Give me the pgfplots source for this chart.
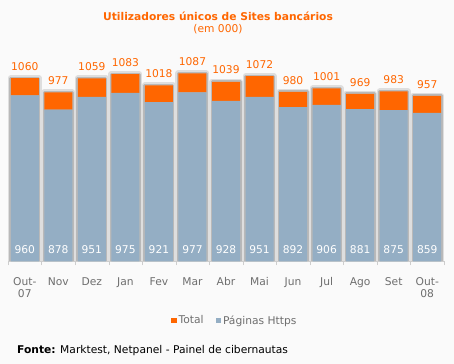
\documentclass[border=0pt]{standalone}
\usepackage{pgfplots}
\pgfplotsset{compat=1.18}
\usepackage{pgfplotstable}
\usepackage{fontspec}
\setmainfont{DejaVu Sans}
\definecolor{bg}{RGB}{250,250,250}
\definecolor{org}{RGB}{255,102,0}
\definecolor{bluegrey}{RGB}{148,174,196}
\definecolor{txtgrey}{RGB}{110,110,110}
\definecolor{axgrey}{RGB}{205,205,205}
\definecolor{shadowA}{RGB}{222,222,222}
\definecolor{shadowB}{RGB}{185,185,185}

\pgfplotstableread{
x https diff total zero
0 960 100 1060 0
1 878 99 977 0
2 951 108 1059 0
3 975 108 1083 0
4 921 97 1018 0
5 977 110 1087 0
6 928 111 1039 0
7 951 121 1072 0
8 892 88 980 0
9 906 95 1001 0
10 881 88 969 0
11 875 108 983 0
12 859 98 957 0
}\datatable

\pgfplotsset{basestyle/.style={
  at={(8bp,102.5bp)}, anchor=south west,
  scale only axis, width=436bp, height=207.6bp,
  xmin=-0.5, xmax=12.5, ymin=0, ymax=1200,
}}
\newcommand{\lblfont}{\fontsize{10.7bp}{12bp}\selectfont}

\begin{document}
\begin{tikzpicture}
\fill[bg] (0,0) rectangle (454bp,364bp);
\useasboundingbox (0,0) rectangle (454bp,364bp);

% shadow layer
\begin{axis}[basestyle, hide axis, ybar, bar width=28bp, bar shift=0pt]
\addplot[fill=shadowA, draw=shadowA, line width=6bp, line join=round] table[x=x,y=total] {\datatable};
\addplot[fill=shadowB, draw=shadowB, line width=3bp, line join=round] table[x=x,y=total] {\datatable};
\end{axis}

% main layer
\begin{axis}[basestyle,
  ybar stacked, bar width=28bp,
  axis x line=bottom, axis y line=none,
  x axis line style={draw=axgrey, -},
  ytick=\empty,
  xtick={0,...,12},
  xticklabels={{Out-\\07},Nov,Dez,Jan,Fev,Mar,Abr,Mai,Jun,Jul,Ago,Set,{Out-\\08}},
  xticklabel style={align=center, font=\lblfont, text=txtgrey, yshift=-8bp},
  major x tick style={draw=none},
  minor xtick={-0.5,0.5,...,12.5},
  minor tick length=4bp,
  tick align=outside,
  minor x tick style={draw=axgrey},
  reverse legend,
  legend style={at={(0.52,-0.285)}, anchor=center, draw=none, fill=none,
    legend columns=2, font=\lblfont, text=txtgrey,
    /tikz/every even column/.append style={column sep=10bp}},
]
\addplot[fill=bluegrey, draw=none,
  legend image code/.code={\path[fill=bluegrey] (0bp,-2.5bp) rectangle (5.5bp,3bp);},
] table[x=x,y=https] {\datatable};
\addplot[fill=org, draw=none,
  legend image code/.code={\path[fill=org] (0bp,-2.5bp) rectangle (5.5bp,3bp);},
] table[x=x,y=diff] {\datatable};
\legend{Páginas Https, Total}
\end{axis}

% labels layer
\begin{axis}[basestyle, hide axis, clip=false]
\addplot[draw=none, mark=none, point meta=explicit symbolic, nodes near coords,
  every node near coord/.style={anchor=south, inner sep=0pt, text=org, font=\lblfont, yshift=7.5bp},
] table[x=x,y=total,meta=total] {\datatable};
\addplot[draw=none, mark=none, point meta=explicit symbolic, nodes near coords,
  every node near coord/.style={anchor=base, inner sep=0pt, text=white, font=\lblfont, yshift=7.8bp},
] table[x=x,y=zero,meta=https] {\datatable};
\end{axis}

\node[anchor=base, text=org, font=\lblfont\bfseries] at (218bp,343bp) {Utilizadores únicos de Sites bancários};
\node[anchor=base, text=org, font=\lblfont] at (218bp,331bp) {(em 000)};
\node[anchor=base west, inner sep=0pt, text=black, font=\fontsize{10.7bp}{12bp}\selectfont] at (17bp,11bp) {\textbf{Fonte:} Marktest, Netpanel - Painel de cibernautas};
\end{tikzpicture}
\end{document}
